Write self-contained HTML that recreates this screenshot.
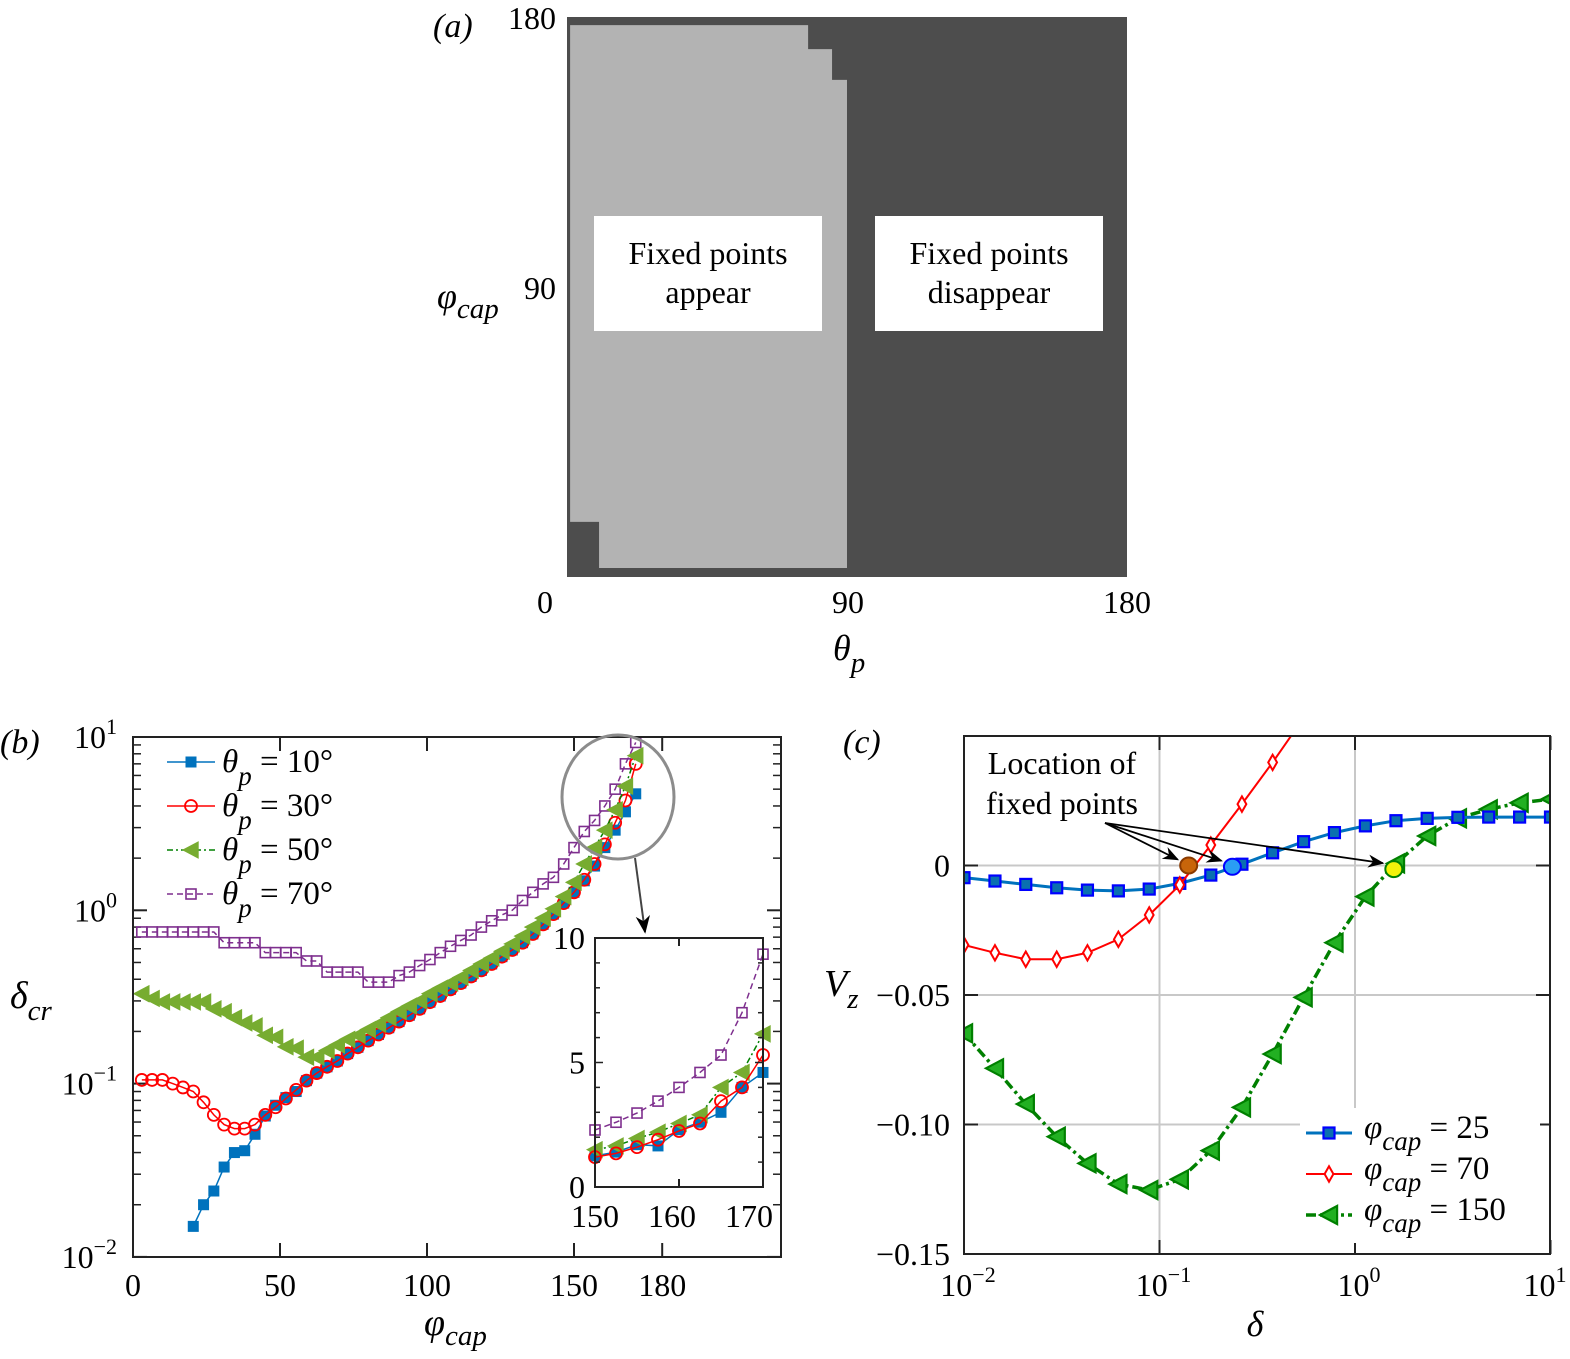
<!DOCTYPE html>
<html><head><meta charset="utf-8"><style>
html,body{margin:0;padding:0;background:#fff;}
svg{display:block;font-family:"Liberation Serif",serif;}
</style></head><body>
<svg id="fig" width="1570" height="1359" viewBox="0 0 1570 1359" xmlns="http://www.w3.org/2000/svg">
<defs>
<clipPath id="clipB"><rect x="133" y="737" width="648" height="520"/></clipPath>
<clipPath id="clipC"><rect x="964" y="736" width="586" height="518"/></clipPath>
<marker id="arr" viewBox="0 0 10 10" refX="9" refY="5" markerWidth="9" markerHeight="9" orient="auto"><path d="M0,1 L10,5 L0,9 L3,5 z" fill="#000"/></marker>
</defs>

<g>
<rect x="567" y="17" width="560" height="560" fill="#4d4d4d"/>
<polygon id="lightRegion" fill="#b3b3b3"/>
<rect x="594" y="216" width="228" height="115" fill="#fff"/>
<rect x="875" y="216" width="228" height="115" fill="#fff"/>
<text x="708" y="264" font-size="32" text-anchor="middle">Fixed points</text>
<text x="708" y="303" font-size="32" text-anchor="middle">appear</text>
<text x="989" y="264" font-size="32" text-anchor="middle">Fixed points</text>
<text x="989" y="303" font-size="32" text-anchor="middle">disappear</text>
<text x="433" y="37" font-size="34" font-style="italic">(a)</text>
<text x="556" y="29" font-size="32" text-anchor="end">180</text>
<text x="556" y="299" font-size="32" text-anchor="end">90</text>
<text x="545" y="613" font-size="32" text-anchor="middle">0</text>
<text x="848" y="613" font-size="32" text-anchor="middle">90</text>
<text x="1127" y="613" font-size="32" text-anchor="middle">180</text>
<text x="437" y="308" font-size="36" font-style="italic">φ<tspan font-size="29" dy="10">cap</tspan></text>
<text x="833" y="660" font-size="36" font-style="italic">θ<tspan font-size="29" dy="12">p</tspan></text>
</g>

<g id="panelB">
<text x="0" y="753" font-size="34" font-style="italic">(b)</text>
<text x="10" y="1008" font-size="38" font-style="italic">δ<tspan font-size="29" dy="12">cr</tspan></text>
<text x="424" y="1335" font-size="38" font-style="italic">φ<tspan font-size="29" dy="10">cap</tspan></text>
<g id="bTicks"></g>
<g id="bSeries" clip-path="url(#clipB)"></g>
<rect x="133" y="737" width="648" height="520" fill="none" stroke="#222" stroke-width="2"/>
<g id="bLegend"></g>
<ellipse cx="618" cy="797" rx="56" ry="62" fill="none" stroke="#8c8c8c" stroke-width="3"/>
<line x1="635" y1="858" x2="645" y2="932" stroke="#444" stroke-width="2" marker-end="url(#arr)"/>
<g id="inset">
<rect x="595" y="938" width="168" height="249" fill="#fff"/>
<g id="iSeries"></g>
<g id="iTicks"></g>
<rect x="595" y="938" width="168" height="249" fill="none" stroke="#222" stroke-width="2"/>
</g>
</g>

<g id="panelC">
<text x="843" y="753" font-size="34" font-style="italic">(c)</text>
<text x="824" y="996" font-size="38" font-style="italic">V<tspan font-size="29" dy="12">z</tspan></text>
<text x="1255" y="1336" font-size="36" font-style="italic" text-anchor="middle">δ</text>
<g id="cGrid"></g>
<g id="cSeries" clip-path="url(#clipC)"></g>
<rect x="964" y="736" width="586" height="518" fill="none" stroke="#222" stroke-width="2"/>
<g id="cTicks"></g>
<g id="cFixed"></g>
<text x="1062" y="774" font-size="32" text-anchor="middle">Location of</text>
<text x="1062" y="814" font-size="32" text-anchor="middle">fixed points</text>
<g id="cArrows"></g>
<g id="cLegend"></g>
</g>
</svg>
<script>
// ---------- data: panel a ----------
const regionTheta = [1, 77.5, 77.5, 85.2, 85.2, 90, 90, 10.3, 10.3, 1];
const regionPhi = [177.4, 177.4, 169.7, 169.7, 159.8, 159.8, 2.9, 2.9, 17.7, 17.7];

// ---------- data: panel b ----------
const phiB = [3,6.5,10,13.5,17,20.5,24,27.5,31,34.5,38,41.5,45,48.5,52,55.5,59,62.5,66,69.5,73,76.5,80,83.5,87,90.5,94,97.5,101,104.5,108,111.5,115,118.5,122,125.5,129,132.5,136,139.5,143,146.5,150,153.5,157,160.5,164,167.5,171];
const deltaTheta10 = [null,null,null,null,null,0.015,0.02,0.024,0.033,0.040,0.041,0.051,0.065,0.075,0.083,0.09,0.104,0.115,0.125,0.135,0.149,0.162,0.177,0.192,0.21,0.228,0.248,0.27,0.295,0.32,0.35,0.38,0.415,0.45,0.49,0.54,0.59,0.65,0.73,0.83,0.95,1.1,1.27,1.48,1.8,2.3,2.9,3.7,4.7];
const deltaTheta30 = [0.105,0.105,0.105,0.1,0.095,0.09,0.078,0.066,0.058,0.055,0.055,0.058,0.066,0.073,0.082,0.092,0.104,0.115,0.125,0.135,0.149,0.162,0.177,0.192,0.21,0.228,0.248,0.27,0.295,0.32,0.35,0.38,0.415,0.45,0.49,0.54,0.59,0.65,0.73,0.83,0.95,1.1,1.27,1.5,1.85,2.4,3.2,4.3,7.0];
const deltaTheta50 = [0.33,0.31,0.296,0.296,0.296,0.296,0.296,0.27,0.26,0.24,0.224,0.215,0.19,0.185,0.163,0.16,0.142,0.142,0.155,0.167,0.18,0.19,0.205,0.22,0.24,0.26,0.28,0.3,0.33,0.355,0.38,0.41,0.45,0.49,0.53,0.58,0.64,0.71,0.8,0.9,1.02,1.2,1.45,1.85,2.3,2.9,3.8,5.2,7.8];
const deltaTheta70 = [0.75,0.75,0.75,0.75,0.75,0.75,0.75,0.75,0.65,0.65,0.65,0.65,0.57,0.57,0.57,0.57,0.51,0.51,0.44,0.44,0.44,0.44,0.385,0.385,0.385,0.42,0.44,0.48,0.52,0.57,0.62,0.67,0.72,0.8,0.87,0.94,1.0,1.14,1.27,1.42,1.55,1.85,2.3,2.85,3.3,4.0,5.0,7.0,9.3];
const bXTickVals = [0,50,100,150,180];
const bXTickLabels = ["0","50","100","150","180"];
const bYDecades = [-2,-1,0,1];
const bYTickLabels = ["−2","−1","0","1"];

// inset
const phiInset = [150,152.5,155,157.5,160,162.5,165,167.5,170];
const insetTheta10 = [1.25,1.4,1.7,1.65,2.3,2.6,3.0,4.0,4.6];
const insetTheta30 = [1.2,1.35,1.6,1.9,2.25,2.55,3.45,4.0,5.3];
const insetTheta50 = [1.5,1.65,1.95,2.2,2.55,2.9,4.0,4.6,6.15];
const insetTheta70 = [2.29,2.6,2.97,3.45,4.0,4.6,5.3,7.0,9.35];
const insetXTicks = [150,160,170];
const insetYTicks = [0,5,10];

// ---------- data: panel c ----------
const deltaC = [0.01,0.0144,0.0207,0.0298,0.0428,0.0616,0.0886,0.127,0.183,0.264,0.379,0.546,0.785,1.13,1.62,2.34,3.36,4.83,6.95,10];
const vzPhi25 = [-0.0047,-0.006,-0.0073,-0.0086,-0.0095,-0.0098,-0.0091,-0.0069,-0.0037,0.0005,0.0049,0.0092,0.0127,0.0153,0.0173,0.0182,0.0186,0.0187,0.0187,0.0187];
const vzPhi70 = [-0.0307,-0.0337,-0.0362,-0.0362,-0.0337,-0.0285,-0.0191,-0.0075,0.0079,0.0237,0.0398,0.057];
const vzPhi150 = [-0.0648,-0.0783,-0.0921,-0.1047,-0.115,-0.123,-0.1253,-0.1212,-0.1101,-0.0934,-0.0728,-0.0509,-0.0298,-0.012,0.0008,0.0114,0.0182,0.0217,0.0242,0.0256];
const fixedDelta = [0.141,0.236,1.58];
const fixedVz = [0.0,-0.0005,-0.0014];
const fixedColors = ["#c8650a","#2a9df4","#f2f20a"];
const cYTicks = [0,-0.05,-0.10,-0.15];
const cYTickLabels = ["0","−0.05","−0.10","−0.15"];
const cXDecades = [-2,-1,0,1];

// ---------- scales ----------
const NS = "http://www.w3.org/2000/svg";
const xa = t => 567 + 3.111 * t, ya = p => 577 - 3.111 * p;
const xb = p => 133 + 2.94 * p, yb = v => 737 + (1 - Math.log10(v)) * 173.3;
const xi = p => 595 + (p - 150) * 8.4, yi = v => 1187 - v * 24.9;
const xc = d => 964 + (Math.log10(d) + 2) * 195.5, yc = v => 865.5 - v * 2590;

function mk(tag, attrs, parent) {
  const e = document.createElementNS(NS, tag);
  for (const k in attrs) e.setAttribute(k, attrs[k]);
  parent.appendChild(e);
  return e;
}
const $ = id => document.getElementById(id);

$('lightRegion').setAttribute('points', regionTheta.map((t, i) => xa(t) + ',' + ya(regionPhi[i])).join(' '));

function marker(g, type, x, y, s, fill, stroke, sw) {
  let m;
  if (type === 'square') m = mk('rect', {x: x - s, y: y - s, width: 2 * s, height: 2 * s, fill: fill, stroke: stroke, 'stroke-width': sw}, g);
  else if (type === 'circle') m = mk('circle', {cx: x, cy: y, r: s, fill: fill, stroke: stroke, 'stroke-width': sw}, g);
  else if (type === 'tri') m = mk('polygon', {points: (x - s) + ',' + y + ' ' + (x + s * 0.9) + ',' + (y - s) + ' ' + (x + s * 0.9) + ',' + (y + s), fill: fill, stroke: stroke, 'stroke-width': sw}, g);
  else m = mk('polygon', {points: x + ',' + (y - s * 1.4) + ' ' + (x + s * 0.8) + ',' + y + ' ' + x + ',' + (y + s * 1.4) + ' ' + (x - s * 0.8) + ',' + y, fill: fill, stroke: stroke, 'stroke-width': sw}, g);
  return m;
}
function series(parent, name, xs, ys, fx, fy, st) {
  const g = mk('g', {}, parent);
  
  
  const pts = [];
  xs.forEach((x, i) => { if (ys[i] !== null && ys[i] !== undefined) pts.push([fx(x), fy(ys[i])]); });
  const line = mk('polyline', {points: pts.map(p => p.join(',')).join(' '), fill: 'none', stroke: st.line, 'stroke-width': st.lw, 'stroke-dasharray': st.dash || 'none'}, g);
  
  
  pts.forEach(p => {
    const m = marker(g, st.type, p[0], p[1], st.size, st.fill, st.stroke, st.msw);
    
    
  });
}
const stB = {
  t10: {line: '#0072BD', lw: 1.5, type: 'square', size: 5, fill: '#0072BD', stroke: '#0072BD', msw: 1},
  t30: {line: '#ff0000', lw: 1.5, type: 'circle', size: 6, fill: 'none', stroke: '#ff0000', msw: 1.8},
  t50: {line: '#008000', lw: 1.5, dash: '6 3 2 3', type: 'tri', size: 8, fill: '#77AC30', stroke: '#77AC30', msw: 1},
  t70: {line: '#7E2F8E', lw: 1.5, dash: '6 4', type: 'square', size: 5, fill: 'none', stroke: '#7E2F8E', msw: 1.6}
};
const bS = $('bSeries');
series(bS, 'series-theta-70', phiB, deltaTheta70, xb, yb, stB.t70);
series(bS, 'series-theta-10', phiB, deltaTheta10, xb, yb, stB.t10);
series(bS, 'series-theta-30', phiB, deltaTheta30, xb, yb, stB.t30);
series(bS, 'series-theta-50', phiB, deltaTheta50, xb, yb, stB.t50);

const bT = $('bTicks');
bXTickVals.forEach((v, i) => {
  const x = xb(v);
  mk('line', {x1: x, y1: 1257, x2: x, y2: 1243, stroke: '#222', 'stroke-width': 2}, bT);
  mk('line', {x1: x, y1: 737, x2: x, y2: 751, stroke: '#222', 'stroke-width': 2}, bT);
  const t = mk('text', {x: x, y: 1296, 'font-size': 32, 'text-anchor': 'middle'}, bT);
  t.textContent = bXTickLabels[i];
  
  
});
bYDecades.forEach((d, i) => {
  const y = yb(Math.pow(10, d));
  mk('line', {x1: 133, y1: y, x2: 147, y2: y, stroke: '#222', 'stroke-width': 2}, bT);
  mk('line', {x1: 781, y1: y, x2: 767, y2: y, stroke: '#222', 'stroke-width': 2}, bT);
  if (d < 1) for (let k = 2; k <= 9; k++) {
    const yy = yb(k * Math.pow(10, d));
    mk('line', {x1: 133, y1: yy, x2: 141, y2: yy, stroke: '#222', 'stroke-width': 1.5}, bT);
    mk('line', {x1: 781, y1: yy, x2: 773, y2: yy, stroke: '#222', 'stroke-width': 1.5}, bT);
  }
  const t = mk('text', {x: 117, y: y + 11, 'font-size': 32, 'text-anchor': 'end'}, bT);
  t.textContent = '10';
  const sp = mk('tspan', {dy: -14, 'font-size': 22}, t);
  sp.textContent = bYTickLabels[i];
  
  
});

const bL = $('bLegend');
const legB = [['t10', '10°'], ['t30', '30°'], ['t50', '50°'], ['t70', '70°']];
legB.forEach((l, i) => {
  const y = 762 + i * 44;
  const st = stB[l[0]];
  const g = mk('g', {}, bL);
  
  
  mk('line', {x1: 167, y1: y, x2: 215, y2: y, stroke: st.line, 'stroke-width': 1.5, 'stroke-dasharray': st.dash || 'none'}, g);
  marker(g, st.type, 191, y, st.size, st.fill, st.stroke, st.msw);
  const t = mk('text', {x: 222, y: y + 10, 'font-size': 33}, g);
  const a = mk('tspan', {'font-style': 'italic'}, t); a.textContent = 'θ';
  const b = mk('tspan', {'font-style': 'italic', 'font-size': 27, dy: 13}, t); b.textContent = 'p';
  const c = mk('tspan', {dy: -13}, t); c.textContent = ' = ' + l[1];
});

const iS = $('iSeries');
series(iS, 'inset-theta-70', phiInset, insetTheta70, xi, yi, stB.t70);
series(iS, 'inset-theta-10', phiInset, insetTheta10, xi, yi, stB.t10);
series(iS, 'inset-theta-50', phiInset, insetTheta50, xi, yi, stB.t50);
series(iS, 'inset-theta-30', phiInset, insetTheta30, xi, yi, stB.t30);
const iT = $('iTicks');
insetXTicks.forEach(v => {
  const x = xi(v);
  mk('line', {x1: x, y1: 1187, x2: x, y2: 1179, stroke: '#222', 'stroke-width': 2}, iT);
  mk('line', {x1: x, y1: 938, x2: x, y2: 946, stroke: '#222', 'stroke-width': 2}, iT);
  const t = mk('text', {x: x - 0.7 * (v - 150), y: 1227, 'font-size': 32, 'text-anchor': 'middle'}, iT);
  t.textContent = String(v);
  
  
});
for (let v = 1; v < 10; v++) {
  const y = yi(v);
  const L = v === 5 ? 8 : 5;
  mk('line', {x1: 595, y1: y, x2: 595 + L, y2: y, stroke: '#222', 'stroke-width': 1.5}, iT);
  mk('line', {x1: 763, y1: y, x2: 763 - L, y2: y, stroke: '#222', 'stroke-width': 1.5}, iT);
}
insetYTicks.forEach(v => {
  const t = mk('text', {x: 585, y: yi(v) + 11, 'font-size': 32, 'text-anchor': 'end'}, iT);
  t.textContent = String(v);
  
  
});

// ---------- panel c ----------
const cG = $('cGrid');
[-1, 0].forEach(d => {
  const x = xc(Math.pow(10, d));
  const l = mk('line', {x1: x, y1: 736, x2: x, y2: 1254, stroke: '#c8c8c8', 'stroke-width': 2}, cG);
  
  
});
cYTicks.forEach(v => {
  if (v === -0.15) return;
  const y = yc(v);
  const l = mk('line', {x1: 964, y1: y, x2: 1550, y2: y, stroke: '#c8c8c8', 'stroke-width': 2}, cG);
  
  
});
const stC = {
  p25: {line: '#0072BD', lw: 3, type: 'square', size: 5.5, fill: '#0a6fb0', stroke: '#0000ff', msw: 2.2},
  p70: {line: '#ff0000', lw: 2, type: 'diamond', size: 5.5, fill: '#fff', stroke: '#ff0000', msw: 2},
  p150: {line: '#008000', lw: 3.5, dash: '10 4 3 4', type: 'tri', size: 9, fill: '#22b022', stroke: '#008000', msw: 2.2}
};
const cS = $('cSeries');
series(cS, 'series-phi-150', deltaC, vzPhi150, xc, yc, stC.p150);
series(cS, 'series-phi-25', deltaC, vzPhi25, xc, yc, stC.p25);
series(cS, 'series-phi-70', deltaC.slice(0, vzPhi70.length), vzPhi70, xc, yc, stC.p70);
const cT = $('cTicks');
cXDecades.forEach((d, i) => {
  const x = xc(Math.pow(10, d));
  mk('line', {x1: x, y1: 1254, x2: x, y2: 1240, stroke: '#222', 'stroke-width': 2}, cT);
  mk('line', {x1: x, y1: 736, x2: x, y2: 750, stroke: '#222', 'stroke-width': 2}, cT);
  const t = mk('text', {x: Math.min(x + 4, 1545), y: 1296, 'font-size': 32, 'text-anchor': 'middle'}, cT);
  t.textContent = '10';
  const sp = mk('tspan', {dy: -14, 'font-size': 22}, t);
  sp.textContent = d < 0 ? '−' + (-d) : String(d);
  
  
});
cYTicks.forEach((v, i) => {
  const y = yc(v);
  mk('line', {x1: 964, y1: y, x2: 978, y2: y, stroke: '#222', 'stroke-width': 2}, cT);
  mk('line', {x1: 1550, y1: y, x2: 1536, y2: y, stroke: '#222', 'stroke-width': 2}, cT);
  const t = mk('text', {x: 950, y: y + 11, 'font-size': 32, 'text-anchor': 'end'}, cT);
  t.textContent = cYTickLabels[i];
  
  
});
const cF = $('cFixed');
fixedDelta.forEach((d, i) => {
  const e = mk('ellipse', {cx: xc(d), cy: yc(fixedVz[i]), rx: 8.5, ry: 8, fill: fixedColors[i], stroke: i === 0 ? '#8a3a00' : (i === 1 ? '#0000ff' : '#008000'), 'stroke-width': 2}, cF);
  
  
});
const cA = $('cArrows');
fixedDelta.forEach((d, i) => {
  const a = mk('line', {x1: 1105, y1: 823, x2: xc(d) - 11, y2: yc(fixedVz[i]) - 6, stroke: '#000', 'stroke-width': 1.8, 'marker-end': 'url(#arr)'}, cA);
  
  
});
const cL = $('cLegend');
const bg = mk('rect', {x: 1300, y: 1108, width: 240, height: 135, fill: '#fff'}, cL);


const legC = [['p25', '25'], ['p70', '70'], ['p150', '150']];
legC.forEach((l, i) => {
  const y = 1133 + i * 41;
  const st = stC[l[0]];
  const g = mk('g', {}, cL);
  
  
  mk('line', {x1: 1306, y1: y, x2: 1352, y2: y, stroke: st.line, 'stroke-width': st.lw, 'stroke-dasharray': st.dash || 'none'}, g);
  marker(g, st.type, 1329, y, st.size, st.fill, st.stroke, st.msw);
  const t = mk('text', {x: 1364, y: y + 5, 'font-size': 33}, g);
  const a = mk('tspan', {'font-style': 'italic'}, t); a.textContent = 'φ';
  const b = mk('tspan', {'font-style': 'italic', 'font-size': 27, dy: 12}, t); b.textContent = 'cap';
  const c = mk('tspan', {dy: -12}, t); c.textContent = ' = ' + l[1];
});
</script>
</body></html>
